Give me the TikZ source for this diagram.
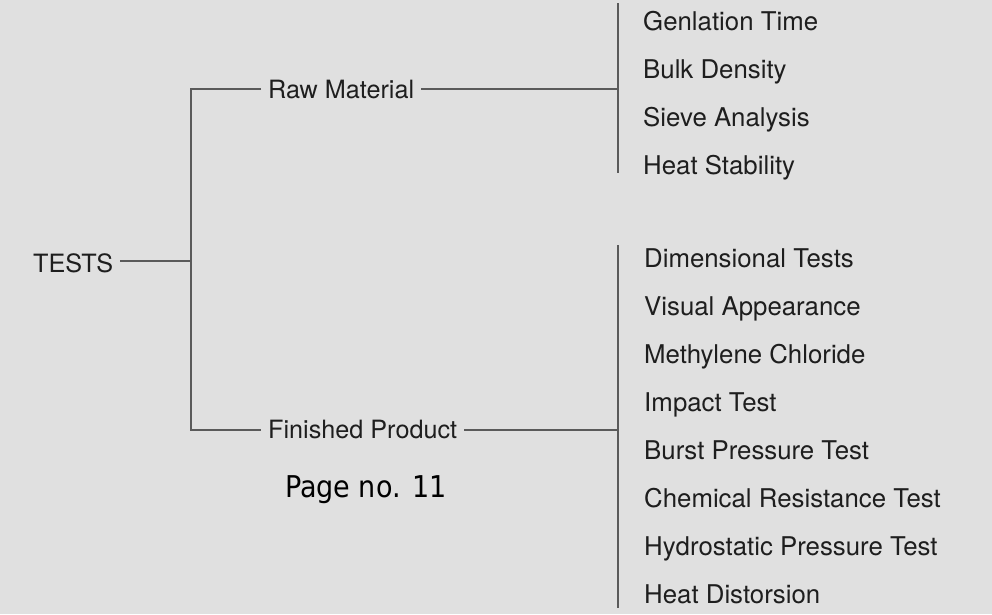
\documentclass[tikz,border=0pt]{standalone}
\usepackage{fontspec}
\setmainfont{TeX Gyre Heros}
\newfontfamily\pagefont{DejaVu Sans Condensed}
\definecolor{bg}{HTML}{E0E0E0}
\definecolor{ln}{HTML}{5A5A5A}
\definecolor{tx}{HTML}{1E1E1E}
\tikzset{
  lbl/.style={inner xsep=7pt, inner ysep=0pt, anchor=base west, text=tx, font=\fontsize{25.2}{30}\selectfont},
  item/.style={inner sep=0pt, anchor=base west, text=tx, font=\fontsize{25.8}{30}\selectfont},
  conn/.style={draw=ln, line width=1.3pt}
}
\begin{document}
\begin{tikzpicture}[x=1pt,y=-1pt]
\fill[bg] (0,0) rectangle (992,614);
\useasboundingbox (0,0) rectangle (992,614);
% root
\node[lbl] (tests) at (26,272) {TESTS};
\coordinate (jT) at (191,261);
\coordinate (jR) at (191,89);
\coordinate (jF) at (191,430);
% branches
\node[lbl] (raw) at (261,98) {Raw Material};
\node[lbl] (fin) at (261,438) {Finished Product};
\node[inner sep=0pt, anchor=base west, text=black, font=\pagefont\fontsize{30}{34}\selectfont] (page) at (285,497) {Page no. 11};
% brackets
\coordinate (bR) at (618,89);
\coordinate (bRt) at (618,3);
\coordinate (bRb) at (618,173);
\coordinate (bF) at (618,430);
\coordinate (bFt) at (618,245);
\coordinate (bFb) at (618,608);
% connectors
\draw[conn] (tests.east |- jT) -- (jT);
\draw[conn] (raw.west |- jR) -- (jR) -- (jF) -- (fin.west |- jF);
\draw[conn] (raw.east |- bR) -- (bR);
\draw[conn] (fin.east |- bF) -- (bF);
\draw[conn] (bRt) -- (bRb);
\draw[conn] (bFt) -- (bFb);
% raw material tests
\node[item] (r1) at (643,30) {Genlation Time};
\node[item] (r2) at (643,78) {Bulk Density};
\node[item] (r3) at (643,126) {Sieve Analysis};
\node[item] (r4) at (643,174) {Heat Stability};
% finished product tests
\node[item] (f1) at (644,267) {Dimensional Tests};
\node[item] (f2) at (644,315) {Visual Appearance};
\node[item] (f3) at (644,363) {Methylene Chloride};
\node[item] (f4) at (644,411) {Impact Test};
\node[item] (f5) at (644,459) {Burst Pressure Test};
\node[item] (f6) at (644,507) {Chemical Resistance Test};
\node[item] (f7) at (644,555) {Hydrostatic Pressure Test};
\node[item] (f8) at (644,603) {Heat Distorsion};
\end{tikzpicture}
\end{document}
